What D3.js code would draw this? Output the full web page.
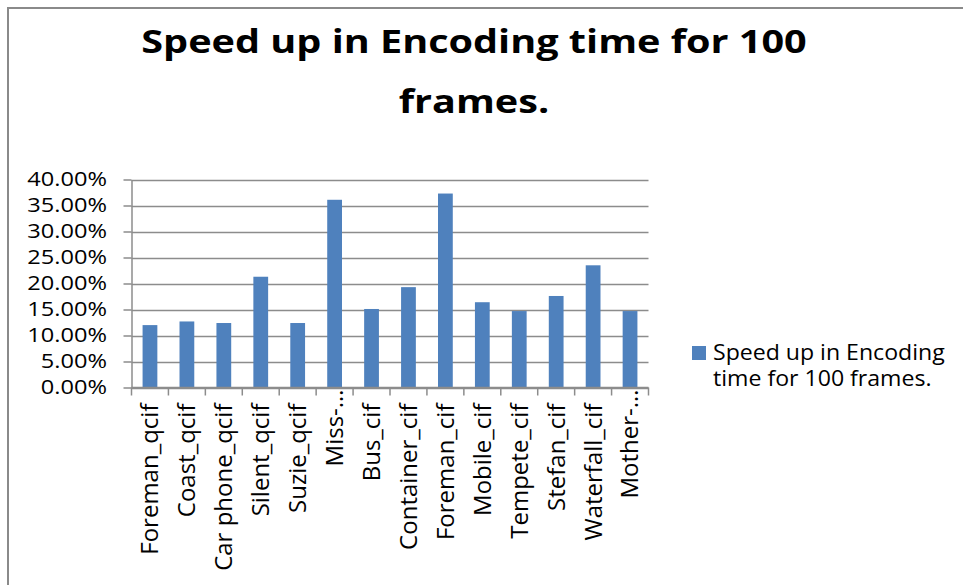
<!DOCTYPE html>
<html>
<head>
<meta charset="utf-8">
<script src="https://cdn.jsdelivr.net/npm/d3@7"></script>
<style>
  html, body { margin: 0; padding: 0; background: #ffffff; }
  svg { display: block; }
  text { font-family: "Open Sans", "Noto Sans", sans-serif; fill: #000; }
</style>
</head>
<body>
<svg id="chart" width="963" height="585"></svg>
<script>
// Sequences and their encoding-time speed-up (fraction of original time)
const categories = [
  "Foreman_qcif", "Coast_qcif", "Car phone_qcif", "Silent_qcif", "Suzie_qcif",
  "Miss-…", "Bus_cif", "Container_cif", "Foreman_cif", "Mobile_cif",
  "Tempete_cif", "Stefan_cif", "Waterfall_cif", "Mother-…"
];
const speedUp = [
  0.120, 0.127, 0.124, 0.213, 0.124,
  0.361, 0.151, 0.193, 0.373, 0.164,
  0.147, 0.176, 0.235, 0.147
];
const yTicks = [0, 0.05, 0.10, 0.15, 0.20, 0.25, 0.30, 0.35, 0.40];
const titleLines = ["Speed up in Encoding time for 100", "frames."];
const legendLines = ["Speed up in Encoding", "time for 100 frames."];

const barColor = "#4F81BD";
const gridColor = "#8c8c8c";

const svg = d3.select("#chart");

// Outer chart frame
svg.append("rect")
  .attr("x", 8).attr("y", 8)
  .attr("width", 1000).attr("height", 1000)
  .attr("fill", "#fff")
  .attr("stroke", "#8a8a8a")
  .attr("stroke-width", 2);

// Title (wide bold face, centred over the chart)
svg.append("g").selectAll("text")
  .data(titleLines)
  .join("text")
  .attr("transform", (d, i) => `translate(474,${53 + i * 60}) scale(1.2,1)`)
  .attr("text-anchor", "middle")
  .attr("font-weight", "bold")
  .attr("font-size", 33)
  .text(d => d);

// Plot area
const plot = { left: 131.5, right: 648.5, top: 179.5, bottom: 387.5 };

const x = d3.scaleBand()
  .domain(categories)
  .range([plot.left, plot.right])
  .paddingInner(0.6)
  .paddingOuter(0.3);

const bandStep = (plot.right - plot.left) / categories.length;

const y = d3.scaleLinear()
  .domain([0, 0.40])
  .range([plot.bottom, plot.top]);

// Horizontal gridlines
svg.append("g")
  .selectAll("line")
  .data(yTicks)
  .join("line")
  .attr("x1", plot.left).attr("x2", plot.right)
  .attr("y1", d => Math.round(y(d)) + 0.5)
  .attr("y2", d => Math.round(y(d)) + 0.5)
  .attr("stroke", gridColor)
  .attr("stroke-width", 1.5);

// Bars
svg.append("g")
  .selectAll("rect")
  .data(speedUp)
  .join("rect")
  .attr("x", (d, i) => x(categories[i]))
  .attr("width", x.bandwidth())
  .attr("y", d => y(d))
  .attr("height", d => y(0) - y(d))
  .attr("fill", barColor);

// Y axis
const yLabelStretch = 1.18;
const yLabelGap = 24.5;
const yAxis = d3.axisLeft(y)
  .tickValues(yTicks)
  .tickFormat(d3.format(".2%"))
  .tickSizeInner(8)
  .tickSizeOuter(0)
  .tickPadding(16);

const gy = svg.append("g")
  .attr("transform", `translate(${plot.left},0)`)
  .call(yAxis);
gy.select(".domain").attr("stroke", gridColor).attr("stroke-width", 1.5);
gy.selectAll(".tick line").attr("stroke", gridColor).attr("stroke-width", 1.5);
gy.selectAll(".tick text")
  .attr("font-family", "\"Open Sans\", sans-serif")
  .attr("font-size", 20)
  .attr("fill", "#000")
  .attr("x", -yLabelGap / yLabelStretch)
  .attr("transform", `scale(${yLabelStretch},1)`);

// X axis: ticks between categories
const xAxisG = svg.append("g");
xAxisG.append("line")
  .attr("x1", plot.left).attr("x2", plot.right)
  .attr("y1", plot.bottom).attr("y2", plot.bottom)
  .attr("stroke", gridColor).attr("stroke-width", 1.5);
xAxisG.selectAll("line.tick")
  .data(d3.range(categories.length + 1))
  .join("line")
  .attr("class", "tick")
  .attr("x1", i => plot.left + i * bandStep)
  .attr("x2", i => plot.left + i * bandStep)
  .attr("y1", plot.bottom).attr("y2", plot.bottom + 8)
  .attr("stroke", gridColor).attr("stroke-width", 1.5);

// Category labels, rotated; truncated names sit closer to the axis
xAxisG.selectAll("text")
  .data(categories)
  .join("text")
  .attr("transform", d => `translate(${x(d) + x.bandwidth() / 2},${plot.bottom + 16}) rotate(-90)`)
  .attr("text-anchor", "end")
  .attr("dx", d => d.endsWith("…") ? 14 : 0)
  .attr("dy", "0.35em")
  .attr("font-size", 24)
  .text(d => d);

// Legend
const legend = svg.append("g");
legend.append("rect")
  .attr("x", 692).attr("y", 346)
  .attr("width", 14).attr("height", 14)
  .attr("fill", barColor);
legend.selectAll("text")
  .data(legendLines)
  .join("text")
  .attr("transform", (d, i) => `translate(713,${359.5 + i * 26.5}) scale(1.1,1)`)
  .attr("font-size", 21)
  .text(d => d);
</script>
</body>
</html>
